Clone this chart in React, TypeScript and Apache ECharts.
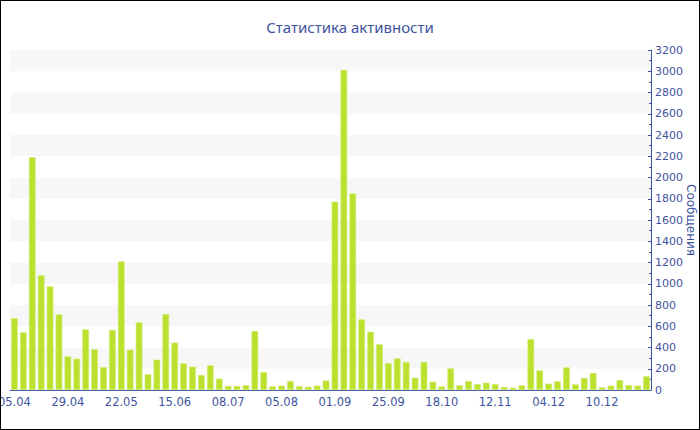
import React, { useEffect, useRef } from "react";
import * as echarts from "echarts";

const title = "Статистика активности";
const yName = "Сообщения";

const categories = [
  "05.04", "09.04", "13.04", "17.04", "21.04", "25.04",
  "29.04", "03.05", "07.05", "11.05", "15.05", "19.05",
  "22.05", "26.05", "30.05", "03.06", "07.06", "11.06",
  "15.06", "19.06", "23.06", "27.06", "01.07", "05.07",
  "08.07", "13.07", "18.07", "22.07", "27.07", "01.08",
  "05.08", "09.08", "14.08", "18.08", "23.08", "28.08",
  "01.09", "05.09", "09.09", "13.09", "17.09", "21.09",
  "25.09", "29.09", "03.10", "07.10", "11.10", "15.10",
  "18.10", "22.10", "26.10", "30.10", "04.11", "08.11",
  "12.11", "16.11", "20.11", "24.11", "28.11", "01.12",
  "04.12", "05.12", "06.12", "07.12", "08.12", "09.12",
  "10.12", "11.12", "12.12", "13.12", "14.12", "15.12",
];

const messages = [
  675, 543, 2190, 1079, 976, 712,
  317, 295, 571, 383, 216, 565,
  1211, 380, 637, 148, 285, 715,
  446, 251, 220, 141, 232, 107,
  38, 38, 44, 555, 169, 35,
  41, 85, 35, 31, 41, 89,
  1772, 3012, 1851, 665, 549, 430,
  254, 298, 264, 116, 264, 78,
  33, 204, 44, 85, 56, 69,
  56, 28, 22, 44, 480, 185,
  60, 82, 213, 53, 113, 160,
  25, 41, 94, 47, 41, 129,
];

const yMin = 0;
const yMax = 3200;
const yInterval = 200;

const BLUE = "#3f54a0";
const FONT = "DejaVu Sans";

export default function App() {
  const ref = useRef<HTMLDivElement>(null);

  useEffect(() => {
    document.body.style.margin = "0";
    if (!ref.current) return;
    const chart = echarts.init(ref.current, undefined, { renderer: "svg" });
    chart.setOption({
      animation: false,
      backgroundColor: "#ffffff",
      title: {
        text: title,
        left: "center",
        top: 14,
        textStyle: {
          color: BLUE,
          fontSize: 15,
          fontWeight: "normal",
          fontFamily: "Noto Sans",
        },
      },
      grid: {
        left: 10,
        right: 49,
        top: 50,
        bottom: 40,
        containLabel: false,
        outerBoundsMode: "none",
      },
      xAxis: {
        type: "category",
        data: categories,
        boundaryGap: true,
        axisLine: { lineStyle: { color: BLUE, width: 1 } },
        axisTick: { alignWithLabel: true, interval: 5, length: 3, lineStyle: { color: BLUE } },
        axisLabel: {
          interval: 5,
          color: BLUE,
          fontSize: 11.5,
          fontFamily: FONT,
          margin: 6,
          hideOverlap: false,
        },
        splitLine: { show: false },
      },
      yAxis: {
        type: "value",
        position: "right",
        min: yMin,
        max: yMax,
        interval: yInterval,
        name: yName,
        nameLocation: "middle",
        nameRotate: -90,
        nameGap: 34,
        nameMoveOverlap: false,
        nameTextStyle: { color: BLUE, fontSize: 12, fontFamily: FONT },
        axisLine: { show: true, lineStyle: { color: BLUE, width: 1 } },
        axisTick: { show: true, inside: true, length: 3, lineStyle: { color: BLUE } },
        minorTick: { show: true, splitNumber: 2, length: 2, lineStyle: { color: BLUE } },
        axisLabel: {
          color: BLUE,
          fontSize: 11,
          fontFamily: FONT,
          margin: 4,
          formatter: (v: number) => String(v),
        },
        splitLine: { show: false },
        splitArea: {
          show: true,
          areaStyle: { color: ["#ffffff", "#f7f7f7"] },
        },
      },
      series: [
        {
          type: "bar",
          data: messages,
          barWidth: "75%",
          itemStyle: {
            color: "#bbe12e",
            borderColor: "#d2ec7a",
            borderWidth: 0.6,
          },
        },
      ],
    });
    return () => chart.dispose();
  }, []);

  return (
    <div style={{ position: "relative", width: 700, height: 430 }}>
      <div ref={ref} style={{ width: 700, height: 430 }} />
      <div
        style={{
          position: "absolute",
          left: 0,
          top: 0,
          width: 700,
          height: 430,
          boxSizing: "border-box",
          border: "1px solid #000",
          pointerEvents: "none",
        }}
      />
    </div>
  );
}
